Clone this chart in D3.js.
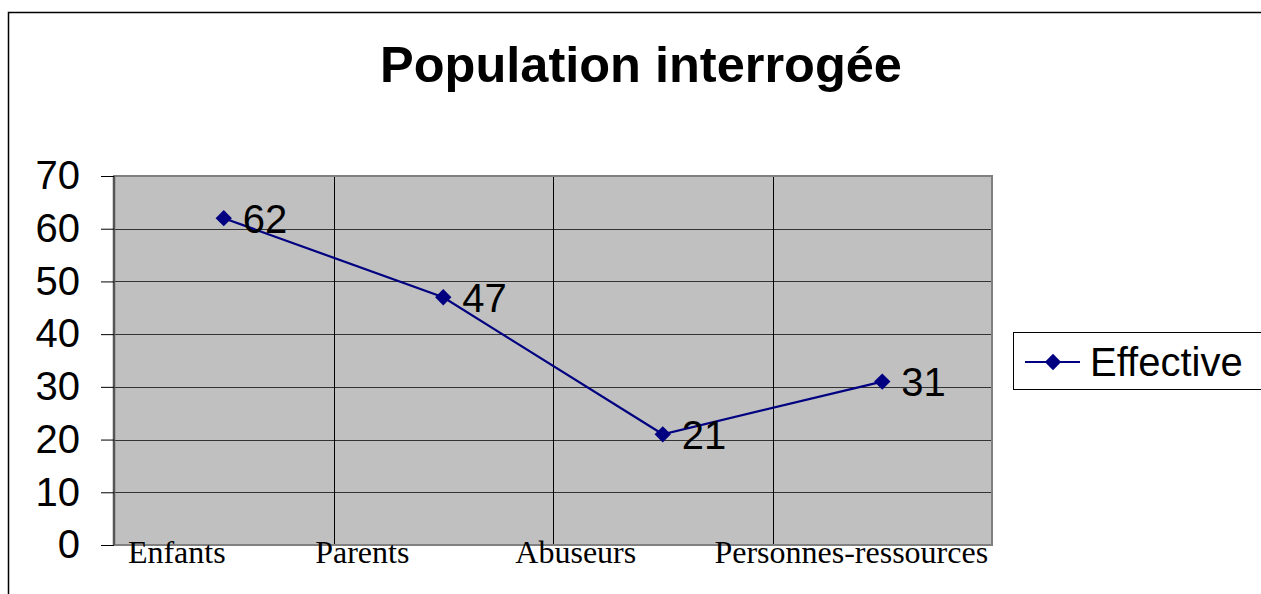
<!DOCTYPE html>
<html>
<head>
<meta charset="utf-8">
<script src="https://cdn.jsdelivr.net/npm/d3@7"></script>
<style>
  html, body { margin: 0; padding: 0; background: #fff; }
  svg { display: block; }
</style>
</head>
<body>
<div id="chart"></div>
<script>
const categories = ["Enfants", "Parents", "Abuseurs", "Personnes-ressources"];
const effective = [62, 47, 21, 31];
const yTicks = [0, 10, 20, 30, 40, 50, 60, 70];
const seriesName = "Effective";
const title = "Population interrogée";

function drawChart(selector) {
  const W = 1261, H = 594;
  const plot = { left: 114, right: 992, top: 176, bottom: 545 };
  const navy = "#000080";
  const sans = "'Liberation Sans', Arial, sans-serif";
  const serif = "'Liberation Serif', 'Times New Roman', serif";

  const svg = d3.select(selector).append("svg")
    .attr("width", W)
    .attr("height", H);

  // outer chart frame (runs off the right and bottom edges)
  svg.append("rect")
    .attr("x", 8.5).attr("y", 12.5)
    .attr("width", W + 20).attr("height", H + 20)
    .attr("fill", "#fff")
    .attr("stroke", "#000")
    .attr("stroke-width", 1.5);

  svg.append("text")
    .attr("x", 641).attr("y", 82)
    .attr("text-anchor", "middle")
    .style("font-family", sans)
    .style("font-weight", "bold")
    .style("font-size", "50.5px")
    .text(title);

  const x = d3.scaleBand().domain(categories).range([plot.left, plot.right]);
  const y = d3.scaleLinear().domain([0, 70]).range([plot.bottom, plot.top]);
  const cx = d => x(d) + x.bandwidth() / 2;

  // grey plot area
  svg.append("rect")
    .attr("x", plot.left).attr("y", plot.top)
    .attr("width", plot.right - plot.left)
    .attr("height", plot.bottom - plot.top)
    .attr("fill", "#c0c0c0");

  // horizontal gridlines
  svg.append("g")
    .selectAll("line")
    .data(yTicks.slice(1, -1))
    .enter().append("line")
    .attr("x1", plot.left).attr("x2", plot.right)
    .attr("y1", d => Math.round(y(d)) + 0.5)
    .attr("y2", d => Math.round(y(d)) + 0.5)
    .attr("stroke", "#333")
    .attr("stroke-width", 1);

  // vertical gridlines between categories
  svg.append("g")
    .selectAll("line")
    .data(categories.slice(1))
    .enter().append("line")
    .attr("x1", d => Math.round(x(d)) + 0.5)
    .attr("x2", d => Math.round(x(d)) + 0.5)
    .attr("y1", plot.top).attr("y2", plot.bottom)
    .attr("stroke", "#000")
    .attr("stroke-width", 1);

  // plot border
  svg.append("rect")
    .attr("x", plot.left).attr("y", plot.top)
    .attr("width", plot.right - plot.left)
    .attr("height", plot.bottom - plot.top)
    .attr("fill", "none")
    .attr("stroke", "#808080")
    .attr("stroke-width", 2);
  svg.append("line")
    .attr("x1", plot.left).attr("x2", plot.left)
    .attr("y1", plot.top).attr("y2", plot.bottom)
    .attr("stroke", "#555").attr("stroke-width", 2.5);

  // y axis
  const yAxis = d3.axisLeft(y)
    .tickValues(yTicks)
    .tickSize(13)
    .tickPadding(21)
    .tickFormat(d3.format("d"));
  const ga = svg.append("g")
    .attr("transform", "translate(" + plot.left + ",0)")
    .call(yAxis);
  ga.select(".domain").remove();
  ga.selectAll(".tick line").attr("stroke", "#000");
  ga.selectAll(".tick text")
    .style("font-family", sans)
    .style("font-size", "40px")
    .attr("fill", "#000");

  // category labels (Excel places them a bit left of the band centres)
  const labelShift = [-47, -81, -87, -31];
  svg.append("g")
    .selectAll("text")
    .data(categories)
    .enter().append("text")
    .attr("x", (d, i) => cx(d) + labelShift[i])
    .attr("y", 563)
    .attr("text-anchor", "middle")
    .style("font-family", serif)
    .style("font-size", "32px")
    .text(d => d);

  // series line
  const pts = categories.map((c, i) => [cx(c), y(effective[i])]);
  svg.append("path")
    .attr("d", d3.line()(pts))
    .attr("fill", "none")
    .attr("stroke", navy)
    .attr("stroke-width", 2.2);

  const diamond = d3.symbol().type(d3.symbolDiamond2).size(170);
  svg.append("g")
    .selectAll("path")
    .data(pts)
    .enter().append("path")
    .attr("transform", d => "translate(" + d[0] + "," + d[1] + ")")
    .attr("d", diamond)
    .attr("fill", navy);

  svg.append("g")
    .selectAll("text")
    .data(effective)
    .enter().append("text")
    .attr("x", (d, i) => pts[i][0] + 19)
    .attr("y", (d, i) => pts[i][1])
    .attr("dy", "0.36em")
    .style("font-family", sans)
    .style("font-size", "40px")
    .text(d => d);

  // legend
  const lg = svg.append("g");
  lg.append("rect")
    .attr("x", 1013.5).attr("y", 332.5)
    .attr("width", 300).attr("height", 57)
    .attr("fill", "#fff")
    .attr("stroke", "#000")
    .attr("stroke-width", 1);
  lg.append("line")
    .attr("x1", 1025).attr("x2", 1080)
    .attr("y1", 362).attr("y2", 362)
    .attr("stroke", navy).attr("stroke-width", 2.2);
  lg.append("path")
    .attr("transform", "translate(1053,362)")
    .attr("d", diamond)
    .attr("fill", navy);
  lg.append("text")
    .attr("x", 1090).attr("y", 376)
    .style("font-family", sans)
    .style("font-size", "40px")
    .text(seriesName);
}

drawChart("#chart");
</script>
</body>
</html>
